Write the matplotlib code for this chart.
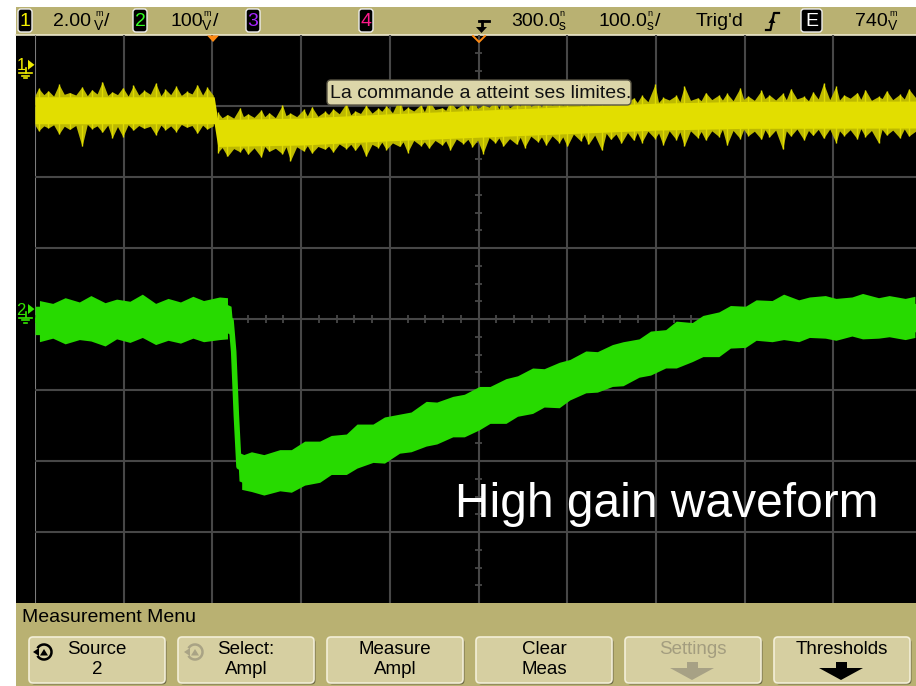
import matplotlib
matplotlib.use("Agg")
import matplotlib.pyplot as plt
from matplotlib.patches import Rectangle, FancyBboxPatch, Polygon, Arc
import numpy as np

plt.rcParams['font.family'] = ['Liberation Sans', 'DejaVu Sans']

# --- acquisition settings ---
CH1_SCALE = 2.0      # mV/div
CH2_SCALE = 100.0    # mV/div
CH1_POS = 3.58       # ground marker position, divisions from centre
CH2_POS = 0.14
T_DIV = 100.0        # ns/div
T_DELAY = 300.0      # ns at screen centre

# channel 1 (yellow): trace level, mV
ch1_t = [-200, 2, 6, 100, 200, 300, 400, 500, 600, 800]
ch1_mid = [-1.28, -1.28, -1.92, -1.88, -1.76, -1.66, -1.56, -1.46, -1.41, -1.40]
CH1_CORE = 0.38

# channel 1 noise spikes: time (ns), tip above / below the band (mV)
ch1_spk_t = [-196, -185, -173, -161, -147, -136, -124, -113, -101, -89, -77, -64, -53, -41, -29, -17, -6,
             6, 17, 31, 40, 55, 64, 79, 88, 103, 112, 127, 136, 151, 161, 173, 187, 196, 211, 220, 235,
             244, 259, 268, 283, 293, 305, 319, 328, 343, 352, 367, 376, 391, 400, 415, 424, 439, 449, 461, 475,
             484, 499, 508, 523, 532, 547, 556, 571, 580, 595, 604, 619, 628, 643, 652, 667, 677, 689, 703, 712,
             727, 736, 751, 760, 775, 785]
ch1_spk_top = [-0.66, -0.73, -0.55, -0.78, -0.62, -0.70, -0.47, -0.76, -0.64, -0.58, -0.72, -0.51, -0.69, -0.60, -0.75, -0.56, -0.63,
               -1.34, -1.40, -1.21, -1.38, -1.27, -1.35, -1.13, -1.36, -1.25, -1.18, -1.31, -1.24, -1.08, -1.30, -1.14, -1.22, -1.15, -0.93, -1.20, -1.12,
               -1.00, -1.21, -1.04, -1.10, -0.93, -1.13, -1.03, -0.95, -1.07, -0.82, -1.07, -0.95, -1.00, -0.86, -1.01, -0.93, -0.75, -1.01, -0.84, -0.93,
               -0.86, -0.55, -0.92, -0.86, -0.60, -0.93, -0.78, -0.85, -0.80, -0.65, -0.88, -0.72, -0.85, -0.80, -0.67, -0.89, -0.76, -0.52, -0.60, -0.85,
               -0.78, -0.70, -0.89, -0.73, -0.83, -0.68]
ch1_spk_bot = [-1.86, -1.78, -1.95, -1.82, -2.30, -1.80, -1.90, -2.06, -2.02, -1.84, -1.79, -1.97, -1.83, -1.88, -1.76, -1.93, -1.81,
               -2.47, -2.58, -2.45, -2.52, -2.60, -2.44, -2.51, -2.70, -2.43, -2.49, -2.38, -2.46, -2.36, -2.41, -2.58, -2.33, -2.39, -2.30, -2.47, -2.28,
               -2.35, -2.26, -2.40, -2.22, -2.31, -2.50, -2.20, -2.29, -2.24, -2.33, -2.17, -2.26, -2.19, -2.30, -2.14, -2.24, -2.41, -2.10, -2.21, -2.13,
               -2.19, -2.08, -2.26, -2.11, -2.29, -2.05, -2.12, -2.02, -2.27, -2.08, -2.00, -2.10, -2.03, -2.38, -2.01, -2.12, -1.99, -2.07, -2.20, -2.00,
               -2.09, -2.02, -2.20, -1.98, -2.06, -2.01]

# channel 1 band edge between spikes: time (ns), upper / lower edge (mV)
ch1_val_t = [-200, -190, -179, -167, -154, -141, -130, -118, -107, -95, -83, -70, -58, -47, -35, -23, -11, 1,
             11, 24, 35, 47, 59, 71, 83, 95, 107, 119, 131, 143, 156, 167, 180, 191, 203, 215, 227, 239,
             251, 263, 275, 288, 299, 312, 323, 335, 347, 359, 371, 383, 395, 407, 419, 431, 444, 455, 468, 479,
             491, 503, 515, 527, 539, 551, 563, 575, 587, 599, 611, 623, 635, 647, 659, 672, 683, 696, 707, 719,
             731, 743, 755, 767, 780, 795]
ch1_val_top = [-0.86, -0.84, -0.88, -0.83, -0.85, -0.87, -0.82, -0.86, -0.84, -0.88, -0.85, -0.83, -0.87, -0.84, -0.86, -0.82, -0.85, -0.86,
               -1.49, -1.50, -1.46, -1.48, -1.46, -1.49, -1.43, -1.46, -1.44, -1.45, -1.40, -1.38, -1.41, -1.37, -1.36, -1.31, -1.35, -1.30, -1.30, -1.32,
               -1.26, -1.28, -1.24, -1.26, -1.23, -1.19, -1.24, -1.21, -1.16, -1.17, -1.18, -1.14, -1.15, -1.09, -1.14, -1.10, -1.07, -1.10, -1.05, -1.06,
               -1.04, -1.06, -0.99, -1.04, -1.00, -1.01, -0.98, -0.99, -1.01, -0.97, -1.00, -0.95, -0.99, -0.98, -0.96, -1.01, -0.96, -0.98, -0.99, -0.94,
               -0.97, -1.00, -0.95, -0.98, -0.96, -0.99]
ch1_val_bot = [-1.70, -1.72, -1.69, -1.73, -1.71, -1.68, -1.72, -1.70, -1.74, -1.69, -1.71, -1.73, -1.70, -1.72, -1.68, -1.71, -1.70, -1.72,
               -2.33, -2.36, -2.33, -2.34, -2.30, -2.35, -2.31, -2.31, -2.28, -2.30, -2.29, -2.23, -2.24, -2.22, -2.24, -2.18, -2.20, -2.17, -2.13, -2.17,
               -2.13, -2.14, -2.09, -2.10, -2.12, -2.05, -2.06, -2.08, -2.04, -2.01, -2.03, -2.00, -2.03, -1.95, -1.97, -1.98, -1.93, -1.95, -1.91, -1.91,
               -1.87, -1.92, -1.86, -1.89, -1.86, -1.88, -1.86, -1.82, -1.85, -1.82, -1.87, -1.83, -1.84, -1.86, -1.81, -1.85, -1.82, -1.81, -1.86, -1.83,
               -1.80, -1.85, -1.82, -1.84, -1.81, -1.83]
CH1_STEP_T = 4       # ns, yellow step

# channel 2 (green): trace level, mV
ch2_t = [-200, 0, 14, 21, 24, 27, 30, 45, 70, 98, 200, 335, 436, 549, 590, 617, 650, 800]
ch2_mid = [-16, -16, -12, -16, -60, -150, -222, -230, -231, -223, -181, -127, -86, -41, -26, -18, -13, -12]
CH2_HALF = 20

# channel 2 envelope bumps: time (ns), tip above / below the band (mV)
ch2_spk_t = [-195, -180, -166, -150, -137, -121, -108, -93, -79, -64, -50, -36, -22, -10, 8, 17,
             33, 44, 58, 76, 89, 104, 121, 134, 151, 163, 181, 194, 211, 224, 241, 253, 271, 284, 301, 313, 331,
             344, 361, 374, 391, 403, 421, 434, 451, 463, 481, 494, 511, 523, 541, 553, 571, 584, 601, 613, 631,
             644, 661, 673, 691, 703, 721, 733, 751, 763, 781, 792]
ch2_spk_top = [12, 8, 16, 10, 19, 9, 14, 11, 21, 8, 15, 10, 18, 12, 17, 16,
               -206, -201, -205, -198, -198, -186, -186, -178, -176, -162, -162, -152, -148, -145, -130, -131, -123, -120, -109, -109, -98,
               -94, -83, -84, -75, -71, -59, -60, -50, -46, -42, -31, -29, -17, -19, -9, -4, 5, 4, 13, 12,
               21, 13, 17, 19, 15, 17, 22, 16, 19, 15, 18]
ch2_spk_bot = [-46, -41, -49, -43, -45, -52, -42, -47, -40, -50, -44, -48, -41, -46, -43, -42,
               -254, -257, -262, -256, -258, -248, -244, -233, -233, -224, -216, -217, -203, -201, -193, -190, -180, -180, -170, -161, -161,
               -151, -147, -138, -139, -128, -118, -117, -109, -108, -96, -93, -83, -83, -74, -67, -67, -55, -54, -44, -46,
               -43, -46, -40, -41, -44, -38, -42, -41, -39, -43, -40]
CH2_STEP_IDX = 16

# soft keys
keys_top = ["Source", "Select:", "Measure", "Clear", "Settings", "Thresholds"]
keys_bot = ["2", "Ampl", "Ampl", "Meas", "", ""]

W, H = 916, 686
KHAKI = '#b9b172'
KEY = '#d6cfa1'
GRID = '#474747'
YEL = '#e2de00'
GRN = '#27da00'


def y1(mv):
    return CH1_POS + np.asarray(mv, dtype=float) / CH1_SCALE


def y2(mv):
    return CH2_POS + np.asarray(mv, dtype=float) / CH2_SCALE


fig = plt.figure(figsize=(W / 100, H / 100), dpi=100)

# frame, status bar and menu area in pixel units
ui = fig.add_axes([0, 0, 1, 1])
ui.set_xlim(0, W)
ui.set_ylim(H, 0)
ui.axis('off')
ui.add_patch(Rectangle((16, 7), W - 16, 28, fc=KHAKI, ec='none'))
ui.add_patch(Rectangle((16, 35), W - 16, 568, fc='black', ec='none'))
ui.add_patch(Rectangle((16, 603), W - 16, H - 603, fc=KHAKI, ec='none'))
ui.plot([16, W], [35.3, 35.3], color='#ebe7cc', lw=1.2)


def chan_box(x0, label, color, w=14):
    ui.add_patch(FancyBboxPatch((x0, 9), w, 23, boxstyle="round,pad=0,rounding_size=3",
                                fc='black', ec='#eeeeee', lw=1.0))
    ui.text(x0 + w / 2, 21, label, color=color, fontsize=14, ha='center', va='center')


def unit(xc, top, bot):
    # stacked unit glyph, prefix over unit
    ui.text(xc, 26, bot, fontsize=10, ha='center', va='center', color='black')
    ui.text(xc, 14, top, fontsize=6.5, ha='center', va='center', color='black')


chan_box(18, "1", '#f4f000')
ui.text(53, 21, "2.00", fontsize=14, va='center')
unit(99, "m", "V")
ui.text(104, 21, "/", fontsize=14, va='center')
chan_box(133, "2", '#33ff22')
ui.text(170, 21, "100", fontsize=14, va='center')
unit(207, "m", "V")
ui.text(213, 21, "/", fontsize=14, va='center')
chan_box(246, "3", '#a526ff')
chan_box(359, "4", '#ff1a8c')

# trigger position marker in the status line
ui.plot([479, 489], [21, 21], color='black', lw=2)
ui.plot([481.5, 481.5], [21, 28], color='black', lw=2)
ui.add_patch(Polygon([(476, 27), (487, 27), (481.5, 33)], closed=True, fc='black', ec='none'))

ui.text(511, 21, "300.0", fontsize=14, va='center')
unit(562, "n", "s")
ui.text(598, 21, "100.0", fontsize=14, va='center')
unit(650, "n", "s")
ui.text(655, 21, "/", fontsize=14, va='center')
ui.text(696, 21, "Trig'd", fontsize=14, va='center')
ui.plot([766, 770.5, 774, 779], [30, 30, 13, 13], color='black', lw=1.6)
ui.add_patch(Polygon([(768.5, 23), (775.5, 23), (772, 18)], closed=True, fc='black', ec='none'))
chan_box(801, "E", 'white', w=21)
ui.text(855, 21, "740", fontsize=14, va='center')
unit(893, "m", "V")

# measurement menu
ui.text(22, 617, "Measurement Menu", fontsize=14, va='center')
for i, (a, b) in enumerate(zip(keys_top, keys_bot)):
    x0 = 29 + 149 * i
    ui.add_patch(FancyBboxPatch((x0 + 1.5, 638.5), 136, 46, boxstyle="round,pad=0,rounding_size=4",
                                fc='#6e6947', ec='none'))
    ui.add_patch(FancyBboxPatch((x0, 637), 136, 46, boxstyle="round,pad=0,rounding_size=4",
                                fc=KEY, ec='#f3efd8', lw=1.2))
    xc = x0 + 68
    col = '#a39d7f' if a == "Settings" else 'black'
    ui.text(xc, 649, a, fontsize=13.5, ha='center', va='center', color=col)
    if b:
        ui.text(xc, 670, b, fontsize=13.5, ha='center', va='center', color=col)

# rotary knob icons on the first two keys
for xc, col in [(44, 'black'), (195, '#a9a385')]:
    ui.add_patch(Arc((xc, 652), 15, 15, theta1=-150, theta2=150, color=col, lw=1.8))
    ui.add_patch(Polygon([(xc - 11, 652), (xc - 5, 648), (xc - 5, 656)], closed=True, fc=col, ec='none'))
    ui.add_patch(Polygon([(xc - 4, 655.5), (xc + 4, 655.5), (xc, 649)], closed=True, fc=col, ec='none'))

# down arrows under Settings / Thresholds
for xc, col in [(692, '#a7a185'), (841, 'black')]:
    ui.add_patch(Rectangle((xc - 5.5, 662), 11, 7, fc=col, ec='none'))
    ui.add_patch(Polygon([(xc - 22, 668), (xc + 22, 668), (xc, 680)], closed=True, fc=col, ec='none'))

# scope graticule in time / division units
ax = fig.add_axes([35 / W, (H - 603) / H, (W - 35) / W, 568 / H], zorder=2)
ax.set_facecolor('none')
x_left = T_DELAY - 5 * T_DIV
ax.set_xlim(x_left, x_left + (W - 35) / 88.7 * T_DIV)
ax.set_ylim(-4, 4)
ax.axis('off')

for k in range(10):
    ax.axvline(x_left + k * T_DIV, color='#7c7c7c' if k == 0 else GRID, lw=1.5, zorder=1)
for j in range(-3, 4):
    ax.axhline(j, color=GRID, lw=1.5, zorder=1)
minor_t = x_left + T_DIV * 0.2 * np.arange(0, 50)
ax.vlines(minor_t, -0.05, 0.05, color=GRID, lw=1.3, zorder=1)
minor_v = -4 + 0.25 * np.arange(1, 32)
ax.hlines(minor_v, T_DELAY - 4, T_DELAY + 4, color=GRID, lw=1.3, zorder=1)

# channel 1: ragged noise envelope (spikes + edge between them), bright core
mid1 = np.array(ch1_mid)
spk1_t = np.array(ch1_spk_t)
spk1_top = np.array(ch1_spk_top)
spk1_bot = np.array(ch1_spk_bot)
env_t = np.concatenate([spk1_t, ch1_val_t])
env_top = np.concatenate([spk1_top, ch1_val_top])
env_bot = np.concatenate([spk1_bot, ch1_val_bot])
order = np.argsort(env_t, kind='stable')
env_t, env_top, env_bot = env_t[order], env_top[order], env_bot[order]
for part in (env_t < CH1_STEP_T, env_t >= CH1_STEP_T):
    ax.fill_between(env_t[part], y1(env_bot[part]), y1(env_top[part]), color='#bdb900', lw=0, zorder=2)
ax.vlines(spk1_t, y1(spk1_top - 0.6), y1(spk1_top), color='#e0dc00', lw=1.0, zorder=3)
ax.vlines(spk1_t, y1(spk1_bot), y1(spk1_bot + 0.6), color='#e0dc00', lw=1.0, zorder=3)
ax.fill_between(ch1_t, y1(mid1 - CH1_CORE), y1(mid1 + CH1_CORE), color=YEL, lw=0, zorder=4)

# channel 2: persistence envelope
mid2 = np.array(ch2_mid, dtype=float)
spk2_t = np.array(ch2_spk_t)
spk2_top = np.array(ch2_spk_top, dtype=float)
spk2_bot = np.array(ch2_spk_bot, dtype=float)
for seg in (slice(0, CH2_STEP_IDX), slice(CH2_STEP_IDX, None)):
    ax.fill_between(spk2_t[seg], y2(spk2_bot[seg]), y2(spk2_top[seg]), color=GRN, lw=0, zorder=3)
ax.fill_between(ch2_t, y2(mid2 - CH2_HALF), y2(mid2 + CH2_HALF), color=GRN, lw=0, zorder=4)
ax.plot(ch2_t, y2(mid2), color=GRN, lw=4, zorder=4)

# overlays: markers, message and caption
fg = fig.add_axes([0, 0, 1, 1], zorder=5)
fg.set_facecolor('none')
fg.set_xlim(0, W)
fg.set_ylim(H, 0)
fg.axis('off')

ORANGE = '#ff8a12'
fg.add_patch(Polygon([(207, 35.5), (219, 35.5), (213, 42)], closed=True, fc=ORANGE, ec='none'))
fg.plot([473, 479, 485], [36, 42, 36], color=ORANGE, lw=1.4)


def ground_marker(yc, label, color):
    fg.text(21, yc + 1, label, color=color, fontsize=12, ha='center', va='center')
    fg.add_patch(Polygon([(28, yc - 5), (28, yc + 5), (34.5, yc)], closed=True, fc=color, ec='none'))
    fg.plot([25.5, 25.5], [yc + 3, yc + 8], color=color, lw=1.2)
    fg.plot([19, 32], [yc + 8.5, yc + 8.5], color=color, lw=1.2)
    fg.plot([22, 29], [yc + 11, yc + 11], color=color, lw=1.2)
    fg.plot([24, 27], [yc + 13.5, yc + 13.5], color=color, lw=1.2)


ground_marker(319 - CH1_POS * 71, "1", '#eeea00')
ground_marker(319 - CH2_POS * 71, "2", '#33e600')

fg.add_patch(FancyBboxPatch((327, 80), 304, 25, boxstyle="round,pad=0,rounding_size=4",
                            fc='#dcd6a9', ec='#5a5645', lw=1.0))
fg.text(330, 93, "La commande a atteint ses limites.", fontsize=14, va='center', color='#111111')

fg.text(455, 517, "High gain waveform", fontsize=34.5, color='white', va='baseline')

fig.savefig("out.png", dpi=100)
